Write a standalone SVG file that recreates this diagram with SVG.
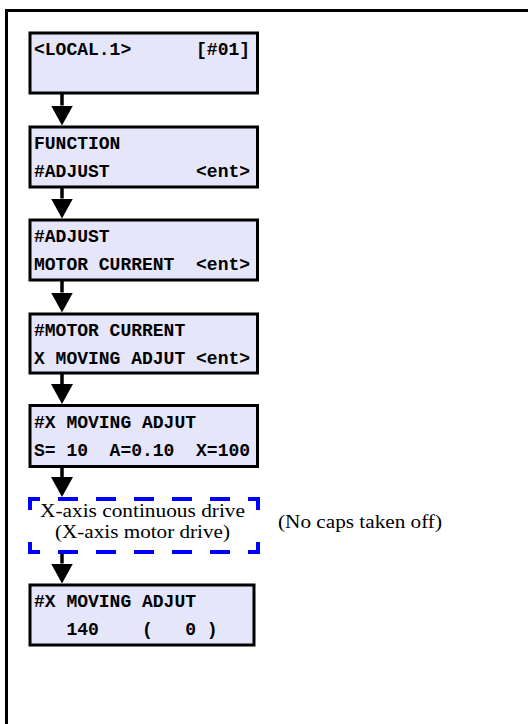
<svg xmlns="http://www.w3.org/2000/svg" width="528" height="724" viewBox="0 0 528 724" xml:space="preserve">
<style>
.lcd{fill:#E6E6FA;stroke:#000;stroke-width:3}
.mono{font-family:"Liberation Mono","DejaVu Sans Mono",monospace;font-weight:bold;font-size:18px;fill:#000;white-space:pre}
.serif{font-family:"Liberation Serif","Times New Roman",serif;font-size:19px;fill:#000}
.conn{stroke:#000;stroke-width:3.5;fill:none;marker-end:url(#ah)}
.dash{stroke:#0000FF;stroke-width:4;fill:none}
</style>
<defs>
<marker id="ah" markerUnits="userSpaceOnUse" viewBox="0 0 20 22" markerWidth="20" markerHeight="22" refX="0" refY="11" orient="auto">
<path d="M0,0 L20,11 L0,22 Z" fill="#000"/>
</marker>
</defs>
<rect width="528" height="724" fill="#fff"/>
<g id="frame">
<path d="M6.5,724 V10.5 H528" fill="none" stroke="#000" stroke-width="3"/>
</g>
<g id="connectors">
<path class="conn" d="M62,94 V105.5"/>
<path class="conn" d="M62,188 V198.5"/>
<path class="conn" d="M62,281 V292.5"/>
<path class="conn" d="M62,374 V384"/>
<path class="conn" d="M62,467 V477"/>
<path class="conn" d="M62,554 V563.5"/>
</g>
<g id="n1">
<rect class="lcd" x="30" y="33" width="227.5" height="60"/>
<text class="mono" x="34" y="55">&lt;LOCAL.1&gt;      [#01]</text>
</g>
<g id="n2">
<rect class="lcd" x="30" y="127" width="227.5" height="60"/>
<text class="mono" x="34" y="148.5">FUNCTION</text>
<text class="mono" x="34" y="177">#ADJUST        &lt;ent&gt;</text>
</g>
<g id="n3">
<rect class="lcd" x="30" y="220" width="227.5" height="60"/>
<text class="mono" x="34" y="242">#ADJUST</text>
<text class="mono" x="34" y="270">MOTOR CURRENT  &lt;ent&gt;</text>
</g>
<g id="n4">
<rect class="lcd" x="30" y="314" width="227.5" height="59"/>
<text class="mono" x="34" y="335.5">#MOTOR CURRENT</text>
<text class="mono" x="34" y="363.5">X MOVING ADJUT &lt;ent&gt;</text>
</g>
<g id="n5">
<rect class="lcd" x="30" y="405.5" width="227.5" height="61"/>
<text class="mono" x="34" y="428">#X MOVING ADJUT</text>
<text class="mono" x="34" y="456">S= 10  A=0.10  X=100</text>
</g>
<g id="n6">
<path class="dash" d="M28,499 H260" stroke-dasharray="20 18" stroke-dashoffset="8"/>
<path class="dash" d="M28,552 H260" stroke-dasharray="20 18" stroke-dashoffset="8"/>
<path class="dash" d="M30,497 V554" stroke-dasharray="13 32 20"/>
<path class="dash" d="M258,497 V554" stroke-dasharray="13 32 20"/>
<text class="serif" x="142.5" y="517" text-anchor="middle" textLength="205" lengthAdjust="spacingAndGlyphs">X-axis continuous drive</text>
<text class="serif" x="142.5" y="538" text-anchor="middle" textLength="175" lengthAdjust="spacingAndGlyphs">(X-axis motor drive)</text>
</g>
<g id="n7">
<text class="serif" x="278" y="528" textLength="164" lengthAdjust="spacingAndGlyphs">(No caps taken off)</text>
</g>
<g id="n8">
<rect class="lcd" x="30" y="585" width="224" height="60"/>
<text class="mono" x="34" y="607">#X MOVING ADJUT</text>
<text class="mono" x="34" y="635">   140    (   0 )</text>
</g>
</svg>
